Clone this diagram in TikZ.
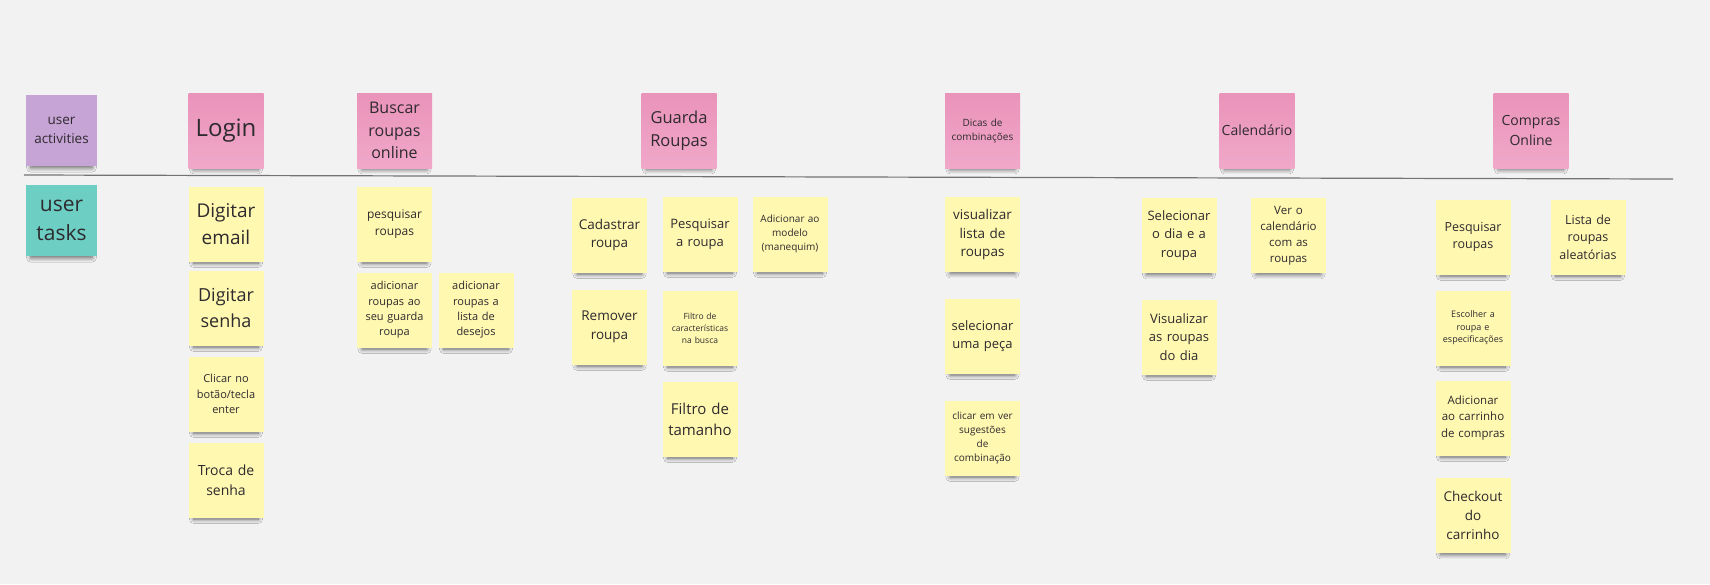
\documentclass[tikz,border=0pt]{standalone}
\usepackage{fontspec}
\setmainfont{Open Sans}
\usepackage{tikz}
\usetikzlibrary{shadows.blur}
\definecolor{board}{HTML}{F2F2F2}
\definecolor{pinkT}{HTML}{EA93BA}
\definecolor{pinkB}{HTML}{F0A8C9}
\definecolor{purpleS}{HTML}{C7A4D6}
\definecolor{tealS}{HTML}{6DCEC4}
\definecolor{yellowS}{HTML}{FFF8B0}
\definecolor{ink}{HTML}{2E2A2E}
\newcommand{\fsz}[1]{\fontsize{#1}{\dimexpr#1pt*14/10\relax}\selectfont}

\begin{document}
\begin{tikzpicture}[x=1pt,y=-1pt,node distance=86pt,
			sticky/.style={minimum width=75pt,minimum height=75pt,inner sep=1pt,text width=72pt,
				align=center,text=ink,
				blur shadow={shadow xshift=0pt,shadow yshift=-8pt,shadow scale=0.86,
					shadow blur radius=5pt,shadow blur steps=8,shadow opacity=60}},
			fs/.style={font=\fsz{#1}},
			act/.style={sticky,top color=pinkT,bottom color=pinkB},
			task/.style={sticky,fill=yellowS},
			lane/.style={sticky,minimum width=71pt,minimum height=71pt,text width=68pt}]
			
			\fill[board] (0,0) rectangle (1710,584);
			
			% activities
			\node[lane,fill=purpleS,fs=13.5] (act) at (61.5,130.5) {user\\activities};
			
			\node[act,fs=24] (login) [right of=act, xshift=78.5pt] {Login};
			
			\node[act,fs=16] (buscar) [right of=login, xshift=82.5pt] {Buscar\\roupas\\online};
			
			\node[act,fs=16.5] (guarda) [right of=buscar, xshift=198.5pt] {Guarda\\Roupas};
			
			\node[act,fs=10] (dicas) [right of=guarda, xshift=217.5pt] {Dicas de\\combinações};
			
			\node[act,fs=14] (calend) [right of=dicas, xshift=188.5pt] {Calendário};
			
			\node[act,fs=14] (compras) [right of=calend, xshift=188pt] {Compras\\Online};
			
			\coordinate (lineL) at (24,175);
			\coordinate (lineR) at (1673,179);
			\draw[line width=1.2pt,color=black!55] (lineL) -- (lineR);
			
			% tasks
			\node[lane,fill=tealS,fs=21] (tasks) [below of=act, yshift=-4pt] {user\\tasks};
			
			\node[task,fs=19] (email) [below of=login, yshift=-7.5pt] {Digitar\\email};
			\node[task,fs=18] (senha) [below of=email, yshift=2pt] {Digitar\\senha};
			\node[task,fs=11] (clicar) [below of=senha] {Clicar no\\botão/tecla\\enter};
			\node[task,fs=14] (troca) [below of=clicar] {Troca de\\senha};
			
			\node[task,fs=12] (pesqOn) [below of=buscar, yshift=-7.5pt] {pesquisar\\roupas};
			\node[task,fs=11] (addGuarda) [below of=pesqOn] {adicionar\\roupas ao\\seu guarda\\roupa};
			\node[task,fs=11] (addDesejo) [right of=addGuarda, xshift=-4.5pt] {adicionar\\roupas a\\lista de\\desejos};
			
			\node[task,fs=13.5] (cadastrar) [below of=guarda, xshift=-69.5pt, yshift=-18.5pt] {Cadastrar\\roupa};
			\node[task,fs=13.5] (remover) [below of=cadastrar, yshift=-6pt] {Remover\\roupa};
			\node[task,fs=13] (pesqRoupa) [right of=cadastrar, xshift=4.5pt, yshift=1pt] {Pesquisar\\a roupa};
			\node[task,fs=8.5] (filtroCar) [below of=pesqRoupa, yshift=-8pt] {Filtro de\\características\\na busca};
			\node[task,fs=15] (filtroTam) [below of=filtroCar, yshift=-5pt] {Filtro de\\tamanho};
			\node[task,fs=10] (modelo) [right of=pesqRoupa, xshift=4pt] {Adicionar ao\\modelo\\(manequim)};
			
			\node[task,fs=13.5] (visLista) [below of=dicas, yshift=-18pt] {visualizar\\lista de\\roupas};
			\node[task,fs=13] (selPeca) [below of=visLista, yshift=-15.5pt] {selecionar\\uma peça};
			\node[task,fs=10] (sugest) [below of=selPeca, yshift=-16pt] {clicar em ver\\sugestões\\de\\combinação};
			
			\node[task,fs=11.5] (verCal) [below of=calend, xshift=31.5pt, yshift=-19pt] {Ver o\\calendário\\com as\\roupas};
			\node[task,fs=13] (selDia) [left of=verCal, xshift=-23.5pt] {Selecionar\\o dia e a\\roupa};
			\node[task,fs=13] (visDia) [below of=selDia, yshift=-15.5pt] {Visualizar\\as roupas\\do dia};
			
			\node[task,fs=12.5] (pesqComp) [below of=compras, xshift=-58pt, yshift=-20.5pt] {Pesquisar\\roupas};
			\node[task,fs=12.5] (aleat) [right of=pesqComp, xshift=29pt] {Lista de\\roupas\\aleatórias};
			\node[task,fs=9] (escolher) [below of=pesqComp, yshift=-5pt] {Escolher a\\roupa e\\especificações};
			\node[task,fs=11.5] (carrinho) [below of=escolher, yshift=-4pt] {Adicionar\\ao carrinho\\de compras};
			\node[task,fs=13.5] (checkout) [below of=carrinho, yshift=-11.5pt] {Checkout\\do\\carrinho};
			
			\end{tikzpicture}
\end{document}
